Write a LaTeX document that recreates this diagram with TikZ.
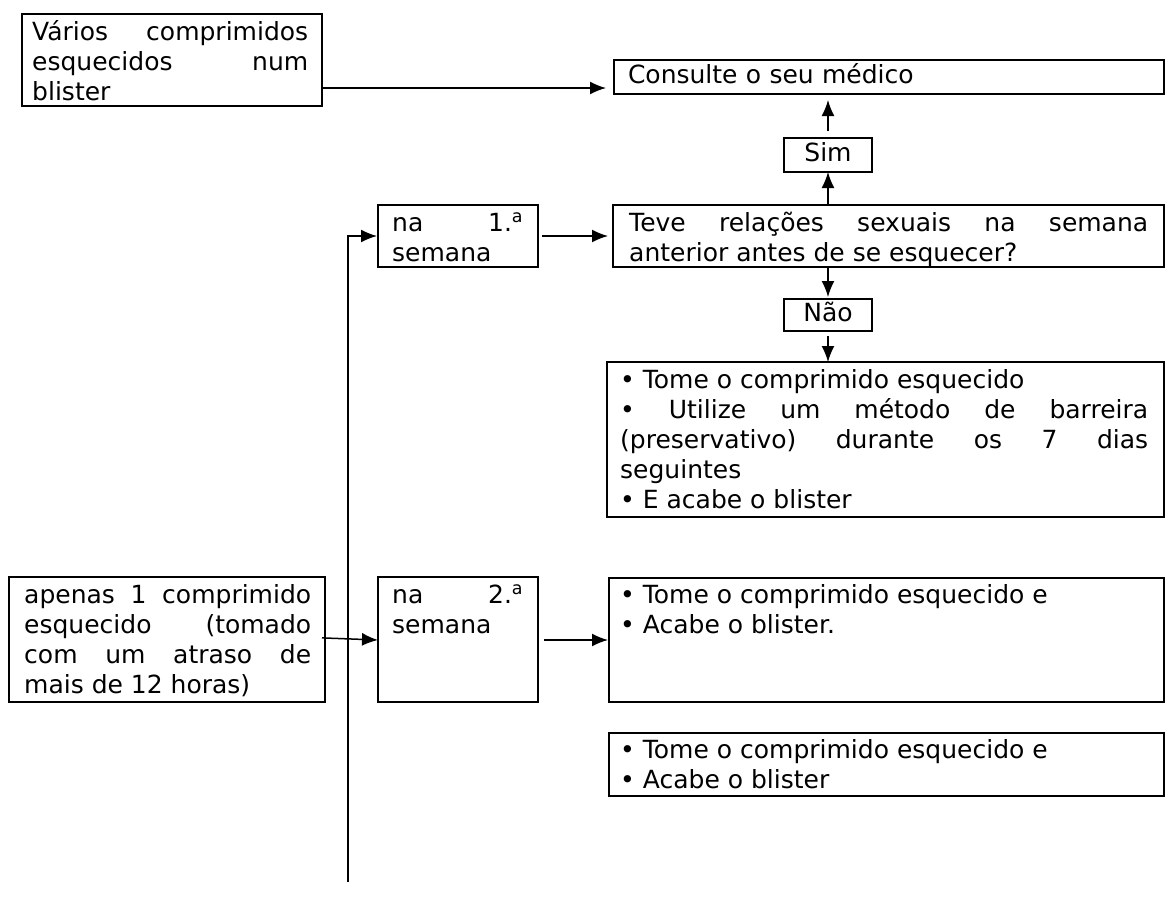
\documentclass[tikz,border=0pt]{standalone}
\usepackage{fontspec}
\setmainfont{DejaVu Sans}
\usetikzlibrary{arrows.meta}
\setlength{\parindent}{0pt}
\hbadness=10000
\begin{document}
\begin{tikzpicture}[x=1pt,y=-1pt,
  font=\fontsize{25}{30}\selectfont,
  frame/.style={draw, line width=1.8pt, inner sep=0pt, outer sep=0pt},
  txt/.style={anchor=north west, inner sep=0pt, align=justify},
  arr/.style={-{Latex[length=16pt,width=13pt]}, line width=1.5pt}]
\useasboundingbox (0,0) rectangle (1168,908);

% boxes
\node[frame, minimum width=300pt, minimum height=92pt] (A) at (172,60) {};
\node[txt, text width=276pt] (tA) at (32,19) {\strut Vários comprimidos\linebreak esquecidos num\linebreak blister};

\node[frame, minimum width=550pt, minimum height=34pt, text width=522pt, align=left] (C) at (889,77) {\raisebox{-2pt}{\strut Consulte o seu médico}};

\node[frame, minimum width=88pt, minimum height=34pt] (S) at (828,155) {\raisebox{-2pt}{\strut Sim}};

\node[frame, minimum width=551pt, minimum height=62pt] (Q) at (888.5,236) {};
\node[txt, text width=519pt] (tQ) at (629,210) {\strut Teve relações sexuais na semana\linebreak anterior antes de se esquecer?};

\node[frame, minimum width=160pt, minimum height=62pt] (N1) at (458,236) {};
\node[txt, text width=131pt] (tN1) at (392,210) {\strut na 1.\textsuperscript{a}\linebreak semana};

\node[frame, minimum width=88pt, minimum height=32pt] (N) at (828,315) {\raisebox{-2pt}{\strut Não}};

\node[frame, minimum width=557pt, minimum height=155pt] (B1) at (885.5,439.5) {};
\node[txt, text width=528pt] (tB1) at (620,367) {\strut • Tome o comprimido esquecido\par • Utilize um método de barreira\linebreak (preservativo) durante os 7 dias\linebreak seguintes\par • E acabe o blister};

\node[frame, minimum width=316pt, minimum height=125pt] (P) at (167,639.5) {};
\node[txt, text width=287pt] (tP) at (24,582) {\strut apenas 1 comprimido\linebreak esquecido (tomado\linebreak com um atraso de\linebreak mais de 12 horas)};

\node[frame, minimum width=160pt, minimum height=125pt] (N2) at (458,639.5) {};
\node[txt, text width=131pt] (tN2) at (392,582) {\strut na 2.\textsuperscript{a}\linebreak semana};

\node[frame, minimum width=555pt, minimum height=124pt] (B2) at (886.5,640) {};
\node[txt, text width=528pt] (tB2) at (620,582) {\strut • Tome o comprimido esquecido e\par • Acabe o blister.};

\node[frame, minimum width=555pt, minimum height=63pt] (B3) at (886.5,764.5) {};
\node[txt, text width=528pt] (tB3) at (620,737) {\strut • Tome o comprimido esquecido e\par • Acabe o blister};

% connectors
\draw[arr, shorten >=8pt] (A.east |- 0,88) -- (C.west |- 0,88);
\draw[arr, shorten <=7pt, shorten >=6pt] (S.north) -- (C.south -| S.north);
\draw[arr] (Q.north -| S.south) -- (S.south);
\draw[arr, shorten >=2pt] (Q.south -| N.north) -- (N.north);
\draw[arr, shorten <=5pt] (N.south) -- (B1.north -| N.south);
\draw[arr, shorten <=4pt, shorten >=5pt] (N1.east) -- (Q.west |- N1.east);
\coordinate (V) at (348,882);
\draw[arr, shorten >=1pt] (V) |- (N1.west);
\draw[arr, shorten <=-3pt] (P.east |- 0,638) -- (N2.west |- 0,640);
\draw[arr, shorten <=6pt, shorten >=1pt] (N2.east |- 0,640) -- (B2.west |- 0,640);
\end{tikzpicture}
\end{document}
